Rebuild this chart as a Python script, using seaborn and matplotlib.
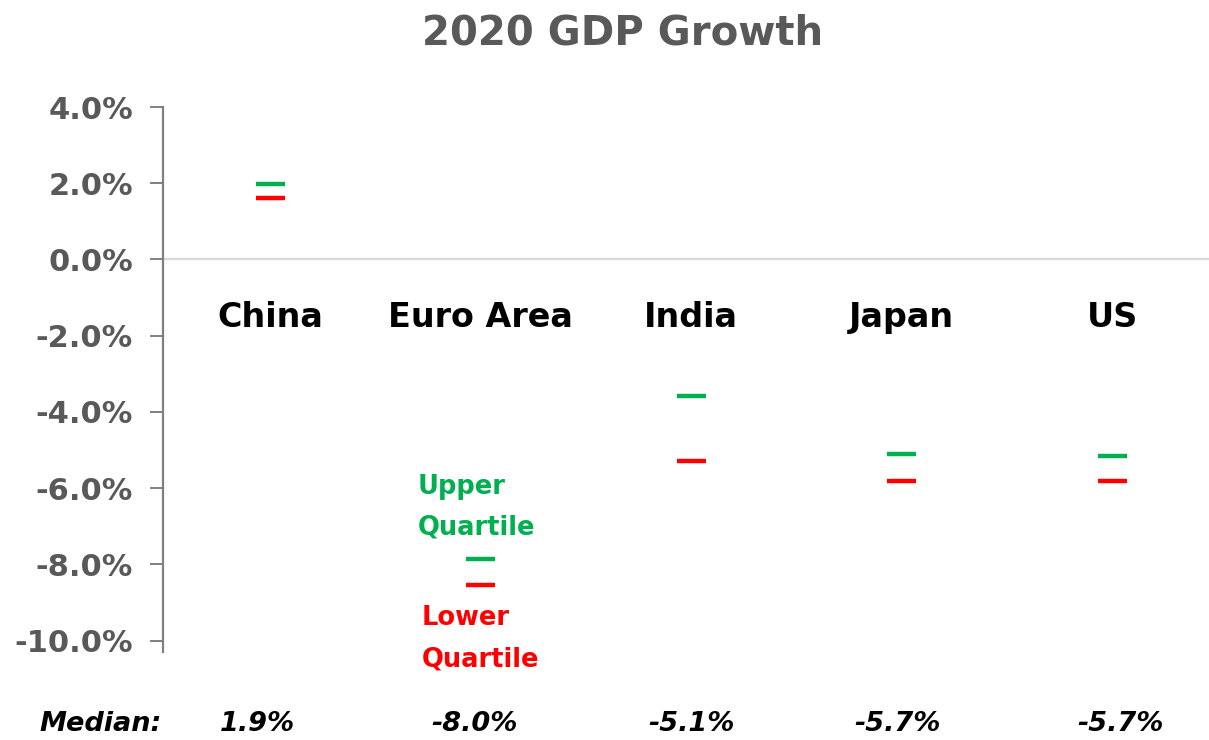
import matplotlib
matplotlib.use("Agg")
import matplotlib.pyplot as plt
import matplotlib.transforms as mtransforms
import pandas as pd
import seaborn as sns

# values (percent)
countries = ["China", "Euro Area", "India", "Japan", "US"]
upper_q = [1.97, -7.85, -3.57, -5.10, -5.17]
lower_q = [1.62, -8.55, -5.30, -5.82, -5.82]
medians = [1.9, -8.0, -5.1, -5.7, -5.7]
median_x = [-0.06, -0.03, 0.0, -0.02, 0.04]   # small offsets of the median labels
y_ticks = [4, 2, 0, -2, -4, -6, -8, -10]

df = pd.DataFrame({
    "Country": countries * 2,
    "Growth": upper_q + lower_q,
    "Quartile": ["Upper"] * len(countries) + ["Lower"] * len(countries),
})

sns.set_style("white")
plt.rcParams["font.family"] = ["DejaVu Sans"]

gray = "#595959"
green = "#00B050"
red = "#FF0000"

fig = plt.figure(figsize=(12.09, 7.40), dpi=100)
ax = fig.add_axes([0.1348, 0.1189, 0.8652, 0.7365])

sns.scatterplot(data=df, x="Country", y="Growth", hue="Quartile",
                palette={"Upper": green, "Lower": red}, marker="_",
                s=440, linewidth=3.2, legend=False, ax=ax, zorder=3)

ax.set_xlim(-0.51, 4.46)
ax.set_ylim(-10.3, 4.0)
ax.set_yticks(y_ticks)
ax.set_yticklabels([f"{v:.1f}%" for v in y_ticks], fontsize=22,
                   fontweight="bold", color=gray)
ax.tick_params(axis="y", left=True, direction="out", length=9.5, width=1.4,
               color="#808080", pad=12)
ax.set_xticks([])
ax.set_xlabel("")
ax.set_ylabel("")

for side in ["top", "right", "bottom"]:
    ax.spines[side].set_visible(False)
ax.spines["left"].set_color("#808080")
ax.spines["left"].set_linewidth(1.6)

ax.axhline(0, color="#D9D9D9", linewidth=1.6, zorder=1)

# country labels inside the plot
for i, name in enumerate(countries):
    ax.text(i, -1.52, name, ha="center", va="center", fontsize=24,
            fontweight="bold", color="black")

# quartile annotations
ax.text(0.70, -6.5, "Upper\nQuartile", ha="left", va="center", fontsize=18.5,
        fontweight="bold", color=green, linespacing=1.75)
ax.text(0.72, -9.95, "Lower\nQuartile", ha="left", va="center", fontsize=18.5,
        fontweight="bold", color=red, linespacing=1.75)

# median row below the axes
trans = mtransforms.blended_transform_factory(ax.transData, fig.transFigure)
fig.text(0.083, 0.022, "Median:", ha="center", va="center", fontsize=19.5,
         fontweight="bold", fontstyle="italic", color="black")
for i, m in enumerate(medians):
    ax.text(i + median_x[i], 0.022, f"{m:.1f}%", transform=trans, ha="center",
            va="center", fontsize=19.5, fontweight="bold", fontstyle="italic",
            color="black", clip_on=False)

fig.suptitle("2020 GDP Growth", x=0.515, y=0.955, va="center", fontsize=29,
             fontweight="bold", color=gray)

fig.savefig("out.png", dpi=100)
